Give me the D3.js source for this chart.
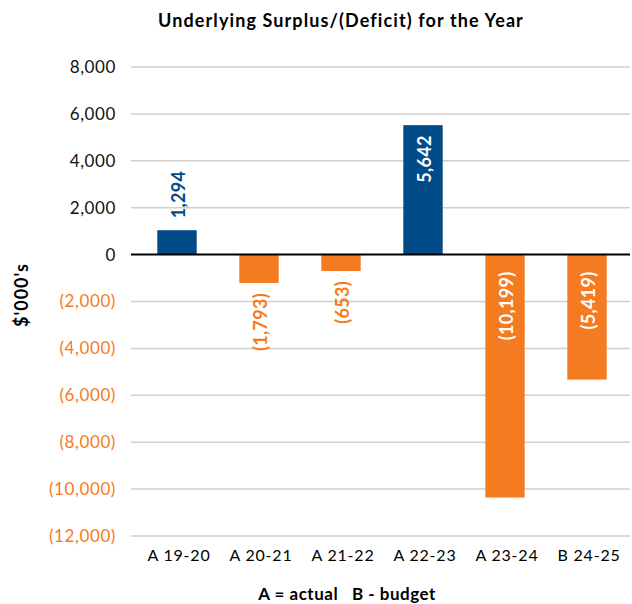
<!DOCTYPE html>
<html>
<head>
<meta charset="utf-8">
<title>Underlying Surplus/(Deficit) for the Year</title>
<script src="https://cdn.jsdelivr.net/npm/d3@7"></script>
<style>
  body { margin: 0; background: #fff; font-family: Lato, "Open Sans", sans-serif; }
  .grid line { stroke: #cfcfcf; stroke-width: 1.5px; }
  .title { font-size: 18px; font-weight: bold; letter-spacing: 1.1px; }
</style>
</head>
<body>
<svg id="chart" width="632" height="604"></svg>
<script>
// data
const years = ["A 19-20", "A 20-21", "A 21-22", "A 22-23", "A 23-24", "B 24-25"];
const barValues = [1040, -1210, -700, 5520, -10360, -5330];   // bar heights as drawn
const barLabels = ["1,294", "(1,793)", "(653)", "5,642", "(10,199)", "(5,419)"];
const yTicks = [8000, 6000, 4000, 2000, 0, -2000, -4000, -6000, -8000, -10000, -12000];

const blue = "#014b88", orange = "#f47b20";

const svg = d3.select("#chart");
const plotLeft = 136, plotRight = 628, plotTop = 67, plotBottom = 536;

const x = d3.scaleBand().domain(years).range([plotLeft, plotRight]).paddingInner(0.52).paddingOuter(0.26);
const y = d3.scaleLinear().domain([-12000, 8000]).range([plotBottom, plotTop]);

const fmt = v => v < 0 ? "(" + d3.format(",")(-v) + ")" : d3.format(",")(v);
const isInside = d => Math.abs(y(d) - y(0)) > 80;

// title
svg.append("text").attr("class", "title")
    .attr("x", 341).attr("y", 27).attr("text-anchor", "middle")
    .text("Underlying Surplus/(Deficit) for the Year");

// gridlines
svg.append("g").attr("class", "grid")
    .selectAll("line").data(yTicks.filter(d => d != 0)).join("line")
    .attr("x1", plotLeft - 5).attr("x2", plotRight + 2)
    .attr("y1", d => y(d)).attr("y2", d => y(d));

// y tick labels
svg.append("g").selectAll("text").data(yTicks).join("text")
    .attr("x", 116).attr("y", d => y(d)).attr("dy", "0.35em")
    .attr("text-anchor", "end")
    .style("font-size", "17px").style("letter-spacing", "0.6px")
    .style("fill", d => d < 0 ? orange : "#111")
    .text(fmt);

// bars
svg.append("g").selectAll("rect").data(barValues).join("rect")
    .attr("x", (d, i) => x(years[i]))
    .attr("width", x.bandwidth())
    .attr("y", d => y(Math.max(0, d)))
    .attr("height", d => Math.abs(y(d) - y(0)))
    .style("fill", d => d < 0 ? orange : blue);

// zero line
svg.append("line")
    .attr("x1", plotLeft - 5).attr("x2", plotRight + 2)
    .attr("y1", y(0)).attr("y2", y(0))
    .style("stroke", "#000").style("stroke-width", 2);

// data labels, rotated
svg.append("g").selectAll("text").data(barValues).join("text")
    .attr("transform", (d, i) => {
        const cx = x(years[i]) + x.bandwidth() / 2;
        let ty;
        if (d >= 0) ty = isInside(d) ? y(d) + 10 : y(d) - 12;
        else ty = isInside(d) ? y(0) + 17 : y(d) + 10;
        return "translate(" + cx + "," + ty + ") rotate(-90)";
    })
    .attr("dy", "0.45em")
    .attr("text-anchor", d => (d >= 0 && !isInside(d)) ? "start" : "end")
    .style("font-size", "18px").style("font-weight", "bold").style("letter-spacing", "0.3px")
    .style("fill", d => isInside(d) ? "#fff" : (d < 0 ? orange : blue))
    .text((d, i) => barLabels[i]);

// x axis labels
svg.append("g").selectAll("text").data(years).join("text")
    .attr("x", d => x(d) + x.bandwidth() / 2 + 2)
    .attr("y", 561)
    .attr("text-anchor", "middle")
    .style("font-size", "16px").style("letter-spacing", "0.8px")
    .text(d => d);

// axis titles
svg.append("text")
    .attr("transform", "translate(22,295) rotate(-90)")
    .attr("dy", "0.35em")
    .attr("text-anchor", "middle")
    .style("font-size", "18px").style("font-weight", "bold").style("letter-spacing", "1px")
    .text("$'000's");

svg.append("text")
    .attr("x", 347).attr("y", 600)
    .attr("text-anchor", "middle")
    .style("font-size", "17px").style("font-weight", "bold").style("letter-spacing", "0.5px")
    .style("white-space", "pre")
    .text("A = actual   B - budget");
</script>
</body>
</html>
